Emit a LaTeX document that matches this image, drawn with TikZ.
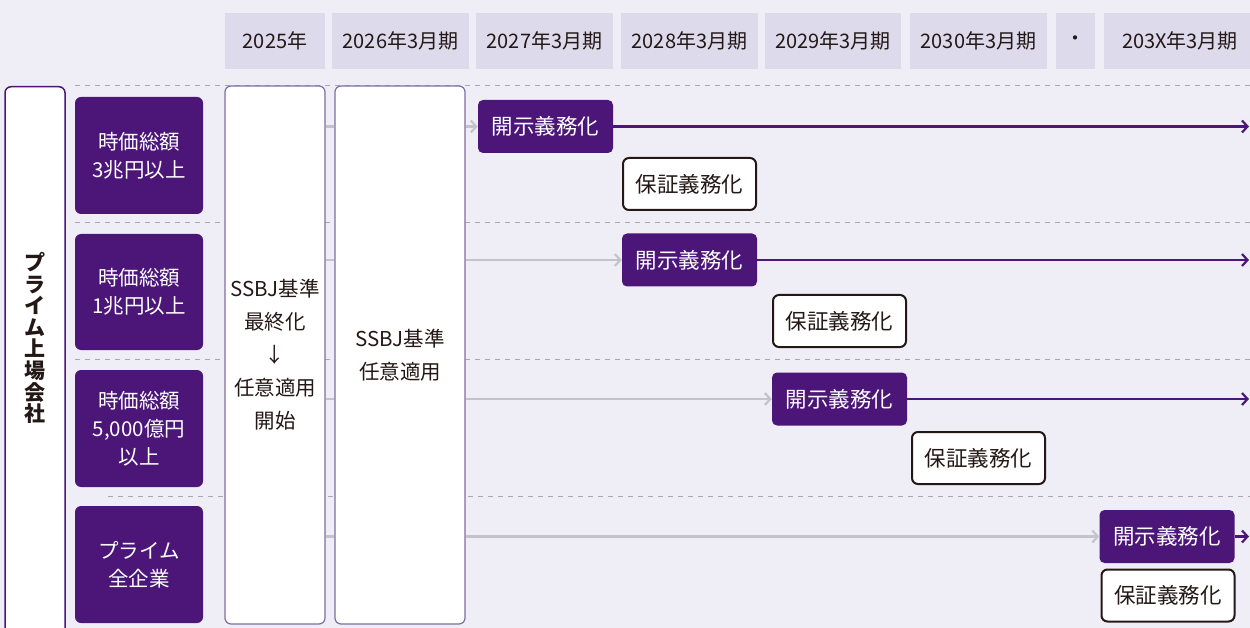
\documentclass[tikz,border=0pt]{standalone}
\usepackage{fontspec}
\setmainfont{Noto Sans CJK JP}
\usetikzlibrary{arrows.meta}
\definecolor{bgc}{HTML}{EFEEF7}
\definecolor{hdr}{HTML}{DDDAEC}
\definecolor{pur}{HTML}{4B1678}
\definecolor{ink}{HTML}{231815}
\definecolor{gline}{HTML}{C4C2CA}
\definecolor{dgray}{HTML}{A8A6AE}
\definecolor{sbord}{HTML}{7F6DA3}
\tikzset{
  hcell/.style={fill=hdr, draw=none, minimum height=56pt, inner sep=0pt, text=ink, font=\fontsize{20pt}{22pt}\selectfont},
  cat/.style={fill=pur, draw=none, rounded corners=6pt, minimum width=128pt, text=white, align=center, inner sep=0pt, font=\fontsize{20.5pt}{28pt}\selectfont},
  sbox/.style={fill=white, draw=sbord, line width=1.2pt, rounded corners=6pt, minimum height=538pt, inner sep=0pt, text=ink, align=center, font=\fontsize{20.5pt}{33pt}\selectfont},
  kaiji/.style={fill=pur, draw=none, rounded corners=5pt, minimum width=135pt, minimum height=53pt, inner sep=0pt, text=white, font=\fontsize{21.5pt}{24pt}\selectfont},
  hosho/.style={fill=white, draw=ink, line width=2pt, rounded corners=6pt, minimum width=133pt, minimum height=52pt, inner sep=0pt, text=ink, font=\fontsize{21.5pt}{24pt}\selectfont},
  sep/.style={draw=dgray, line width=1pt, dash pattern=on 5pt off 5pt},
  garrow/.style={draw=gline, line width=2.2pt, -{Straight Barb[length=5.5pt,width=12pt]}},
  gline/.style={draw=gline, line width=2.2pt},
  parrow/.style={draw=pur, line width=2.2pt, -{Straight Barb[length=5.5pt,width=12pt]}},
}
\begin{document}
\begin{tikzpicture}[x=1pt,y=-1pt]
\useasboundingbox (0,0) rectangle (1250,628);
\clip (0,0) rectangle (1250,628);
\fill[bgc] (0,0) rectangle (1250,628);
% header
\node[hcell, minimum width=100pt] (h1) at (275,41) {2025年};
\node[hcell, minimum width=137pt] (h2) at (400.5,41) {2026年3月期};
\node[hcell, minimum width=137pt] (h3) at (544.5,41) {2027年3月期};
\node[hcell, minimum width=137pt] (h4) at (689.5,41) {2028年3月期};
\node[hcell, minimum width=136pt] (h5) at (833,41) {2029年3月期};
\node[hcell, minimum width=137pt] (h6) at (978.5,41) {2030年3月期};
\node[hcell, minimum width=39pt] (h7) at (1075.5,41) {・};
\node[hcell, minimum width=152pt] (h8) at (1180,41) {203X年3月期};
% separators
\coordinate (d1a) at (75,86);  \coordinate (d1b) at (1250,86);
\coordinate (d2a) at (75,223); \coordinate (d2b) at (1250,223);
\coordinate (d3a) at (75,359.5); \coordinate (d3b) at (1250,359.5);
\coordinate (d4a) at (108,496); \coordinate (d4b) at (1250,496);
\draw[sep] (d1a) -- (d1b);
\draw[sep] (d2a) -- (d2b);
\draw[sep] (d3a) -- (d3b);
\draw[sep] (d4a) -- (d4b);
% left box
\node[fill=white, draw=pur, line width=1.5pt, rounded corners=6pt, minimum width=60pt, minimum height=560pt, inner sep=0pt, anchor=north] (prime) at (35,86) {};
\node[text=ink, align=center, inner sep=0pt, font=\fontsize{21pt}{21.6pt}\selectfont\bfseries] (primelabel) at (35,338) {プ\\ラ\\イ\\ム\\上\\場\\会\\社};
% categories
\node[cat, minimum height=117pt] (c1) at (139,155.5) {時価総額\\3兆円以上};
\node[cat, minimum height=116pt] (c2) at (139,292) {時価総額\\1兆円以上};
\node[cat, minimum height=117pt] (c3) at (139,428.5) {時価総額\\5,000億円\\以上};
\node[cat, minimum height=117pt] (c4) at (139,564.5) {プライム\\全企業};
% SSBJ columns
\node[sbox, minimum width=100pt] (s1) at (275,355) {SSBJ基準\\最終化\\↓\\任意適用\\開始};
\node[sbox, minimum width=130pt] (s2) at (400,355) {SSBJ基準\\任意適用};
% obligations
\node[kaiji] (k1) at (545.5,126.5) {開示義務化};
\node[kaiji] (k2) at (689.5,260) {開示義務化};
\node[kaiji] (k3) at (839.5,399) {開示義務化};
\node[kaiji] (k4) at (1167,536.5) {開示義務化};
\node[hosho] (g1) at (689.5,184) {保証義務化};
\node[hosho] (g2) at (839.5,321) {保証義務化};
\node[hosho] (g3) at (978.5,458) {保証義務化};
\node[hosho] (g4) at (1168,595.5) {保証義務化};
% gray connectors
\draw[gline] (s1.east |- k1.west) -- (s2.west |- k1.west);
\draw[garrow] (s2.east |- k1.west) -- (k1.west);
\draw[gline] (s1.east |- k2.west) -- (s2.west |- k2.west);
\draw[garrow] (s2.east |- k2.west) -- (k2.west);
\draw[gline] (s1.east |- k3.west) -- (s2.west |- k3.west);
\draw[garrow] (s2.east |- k3.west) -- (k3.west);
\draw[gline] (s1.east |- k4.west) -- (s2.west |- k4.west);
\draw[garrow] (s2.east |- k4.west) -- (k4.west);
% purple continuation arrows
\coordinate (e1) at (1249,126.5);
\coordinate (e2) at (1249,260);
\coordinate (e3) at (1249,399);
\coordinate (e4) at (1249,536.5);
\draw[parrow] (k1.east) -- (e1);
\draw[parrow] (k2.east) -- (e2);
\draw[parrow] (k3.east) -- (e3);
\draw[parrow] (k4.east) -- (e4);
\end{tikzpicture}
\end{document}
